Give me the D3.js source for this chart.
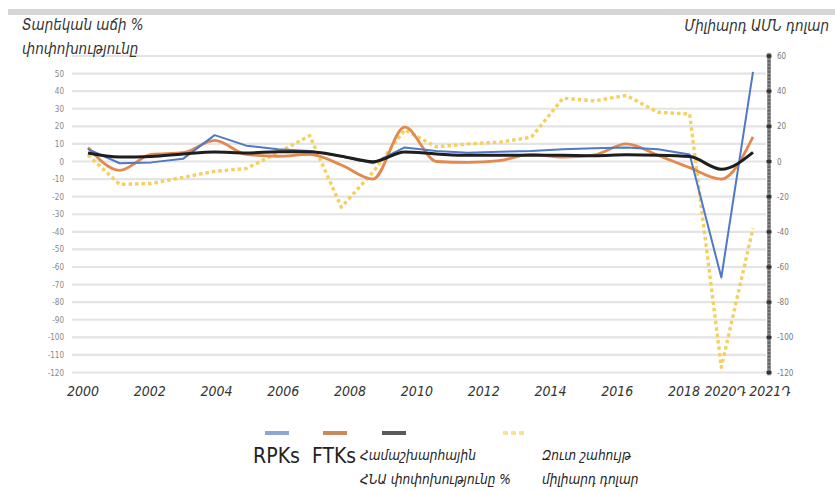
<!DOCTYPE html>
<html><head><meta charset="utf-8">
<script src="https://cdn.jsdelivr.net/npm/d3@7"></script>
<style>
html,body{margin:0;padding:0;background:#fff;}
svg{display:block;}
</style></head>
<body>
<svg id="chart" width="835" height="490"></svg>
<script>
// ---- data ----
const years = [2000,2001,2002,2003,2004,2005,2006,2007,2008,2009,2010,2011,2012,2013,2014,2015,2016,2017,2018,2019,2020,2021];
const rpks  = [7,-1,-0.5,1.5,15,9,7,6,3,-1,8,6,5,5.5,6,7,7.5,8,7,4,-66,51];
const ftks  = [8,-5,4,5,12,4,3,4,-2,-10,19.5,0,-0.5,0.5,4,2.5,3.8,10,3.5,-3.5,-10,14];
const gdp   = [4.8,2.5,2.9,4.3,5.4,4.9,5.5,5.6,3.0,-0.1,5.4,4.3,3.5,3.5,3.6,3.5,3.3,3.8,3.6,2.8,-4.4,5.2];
const profit= [3.7,-13,-12.5,-9,-5.6,-4,5,14.7,-26,-6,18,8.3,10,11,13.8,36,34.5,37.6,28,27,-117,-38];
const leftTicks  = [50,40,30,20,10,0,-10,-20,-30,-40,-50,-60,-70,-80,-90,-100,-110,-120];
const gridTicks  = [60,50,40,30,20,10,0,-10,-20,-30,-40,-50,-60,-70,-80,-90,-100,-110,-120];
const rightTicks = [60,40,20,0,-20,-40,-60,-80,-100,-120];
const xTickYears  = [2000,2002,2004,2006,2008,2010,2012,2014,2016,2018,2020,2021];
const xTickLabels = ["2000","2002","2004","2006","2008","2010","2012","2014","2016","2018","2020Դ","2021Դ"];
const leftTitle  = ["Տարեկան աճի %","փոփոխությունը"];
const rightTitle = "Միլիարդ ԱՄՆ դոլար";
const legendItems = [
  {key:"rpk", lines:["RPKs"]},
  {key:"ftk", lines:["FTKs"]},
  {key:"gdp", lines:["Համաշխարհային","ՀՆԱ փոփոխությունը %"]},
  {key:"profit", lines:["Զուտ շահույթ","միլիարդ դոլար"]}
];

// ---- setup ----
const svg = d3.select("#chart");
const font = "'DejaVu Sans Condensed','DejaVu Sans',sans-serif";
const x = d3.scaleLinear().domain([2000,2021]).range([88,753]);
const y = d3.scaleLinear().domain([-120,60]).range([372.5,56]);
const yR = d3.scaleLinear().domain([-120,60]).range([372.5,56]);
const xLab = d3.scaleLinear().domain([2000,2018]).range([83,684]);

// top gray band
svg.append("rect").attr("x",8).attr("y",9).attr("width",827).attr("height",6).attr("fill","#d6d6d6");

// gridlines
svg.append("g").selectAll("line").data(gridTicks).join("line")
  .attr("x1",72).attr("x2",766)
  .attr("y1",d=>y(d)).attr("y2",d=>y(d))
  .attr("stroke","#e4e4e4").attr("stroke-width",2.2);

// left axis labels
const leftAxis = d3.axisLeft(y).tickValues(leftTicks).tickSize(0).tickPadding(0).tickFormat(d=>String(d));
const gl = svg.append("g").attr("transform","translate(64,0)").call(leftAxis);
gl.select(".domain").remove();
gl.selectAll("text").attr("font-family",font).attr("font-size",8).attr("fill","#888");

// right axis
const gr = svg.append("g").attr("transform","translate(769,0)");
gr.append("line").attr("x1",0).attr("x2",0).attr("y1",yR(61.5)).attr("y2",yR(-121.5))
  .attr("stroke","#666").attr("stroke-width",3.5);
gr.append("g").selectAll("line").data(d3.ticks(-120,60,90)).join("line")
  .attr("x1",-2).attr("x2",2).attr("y1",d=>yR(d)).attr("y2",d=>yR(d))
  .attr("stroke","#aaa").attr("stroke-width",0.8);
gr.append("g").selectAll("rect").data(rightTicks).join("rect")
  .attr("x",-2.5).attr("y",d=>yR(d)-1.5).attr("width",5).attr("height",3).attr("fill","#333");
const rightAxis = d3.axisRight(yR).tickValues(rightTicks).tickSize(0).tickPadding(0).tickFormat(d=>String(d));
const gra = svg.append("g").attr("transform","translate(777,0)").call(rightAxis);
gra.select(".domain").remove();
gra.selectAll("text").attr("font-family",font).attr("font-size",8).attr("fill","#777");

// x labels
svg.append("g").selectAll("text").data(xTickYears).join("text")
  .attr("x",(d,i)=> d<=2018 ? xLab(d) : x(d) + (d===2020 ? 4 : 17))
  .attr("y",396).attr("text-anchor","middle")
  .attr("font-family",font).attr("font-style","italic").attr("font-size",14).attr("fill","#333")
  .text((d,i)=>xTickLabels[i]);

// titles
svg.append("g").selectAll("text").data(leftTitle).join("text")
  .attr("x",22).attr("y",(d,i)=>30+i*24)
  .attr("font-family",font).attr("font-style","italic").attr("font-size",15).attr("fill","#333")
  .text(d=>d);
svg.append("text").attr("x",829).attr("y",31).attr("text-anchor","end")
  .attr("font-family",font).attr("font-style","italic").attr("font-size",15).attr("fill","#333")
  .text(rightTitle);

// series
const series = [
  {key:"profit", vals:profit, scale:yR, color:"#f4d05e", width:3.4, dash:"3.5,3", curve:d3.curveLinear},
  {key:"ftk", vals:ftks, scale:y, color:"#e2894f", width:2.8, dash:null, curve:d3.curveMonotoneX},
  {key:"rpk", vals:rpks, scale:y, color:"#4f78c6", width:2, dash:null, curve:d3.curveLinear},
  {key:"gdp", vals:gdp, scale:y, color:"#1e1e1e", width:3, dash:null, curve:d3.curveMonotoneX}
];
series.forEach(s=>{
  const line = d3.line().x((d,i)=>x(years[i])).y(d=>s.scale(d)).curve(s.curve);
  svg.append("path").datum(s.vals)
    .attr("d", line)
    .attr("fill","none").attr("stroke",s.color).attr("stroke-width",s.width)
    .attr("stroke-linejoin","round")
    .attr("stroke-dasharray",s.dash);
});

// legend
const swatch = {
  rpk:{x:265,color:"#8ea5d2",dash:null},
  ftk:{x:323,color:"#c98a5e",dash:null},
  gdp:{x:382,color:"#5a5a5a",dash:null},
  profit:{x:503,color:"#f6e29a",dash:"5,3"}
};
const labelPos = {
  rpk:{x:253,size:21,italic:false,len:47},
  ftk:{x:312,size:21,italic:false,len:44},
  gdp:{x:360,size:13.5,italic:true},
  profit:{x:542,size:13.5,italic:true}
};
legendItems.forEach(it=>{
  const sw = swatch[it.key];
  svg.append("line").attr("x1",sw.x).attr("x2",sw.x+24).attr("y1",433).attr("y2",433)
    .attr("stroke",sw.color).attr("stroke-width",4).attr("stroke-dasharray",sw.dash);
  const lp = labelPos[it.key];
  const t = svg.append("g").selectAll("text").data(it.lines).join("text")
    .attr("x",lp.x).attr("y",(d,i)=> lp.italic ? 460+i*24 : 463)
    .attr("font-family", font)
    .attr("font-style", lp.italic ? "italic" : "normal")
    .attr("font-size",lp.size).attr("fill","#222")
    .text(d=>d);
  if (lp.len) t.attr("textLength",lp.len).attr("lengthAdjust","spacingAndGlyphs");
});
</script>
</body></html>
